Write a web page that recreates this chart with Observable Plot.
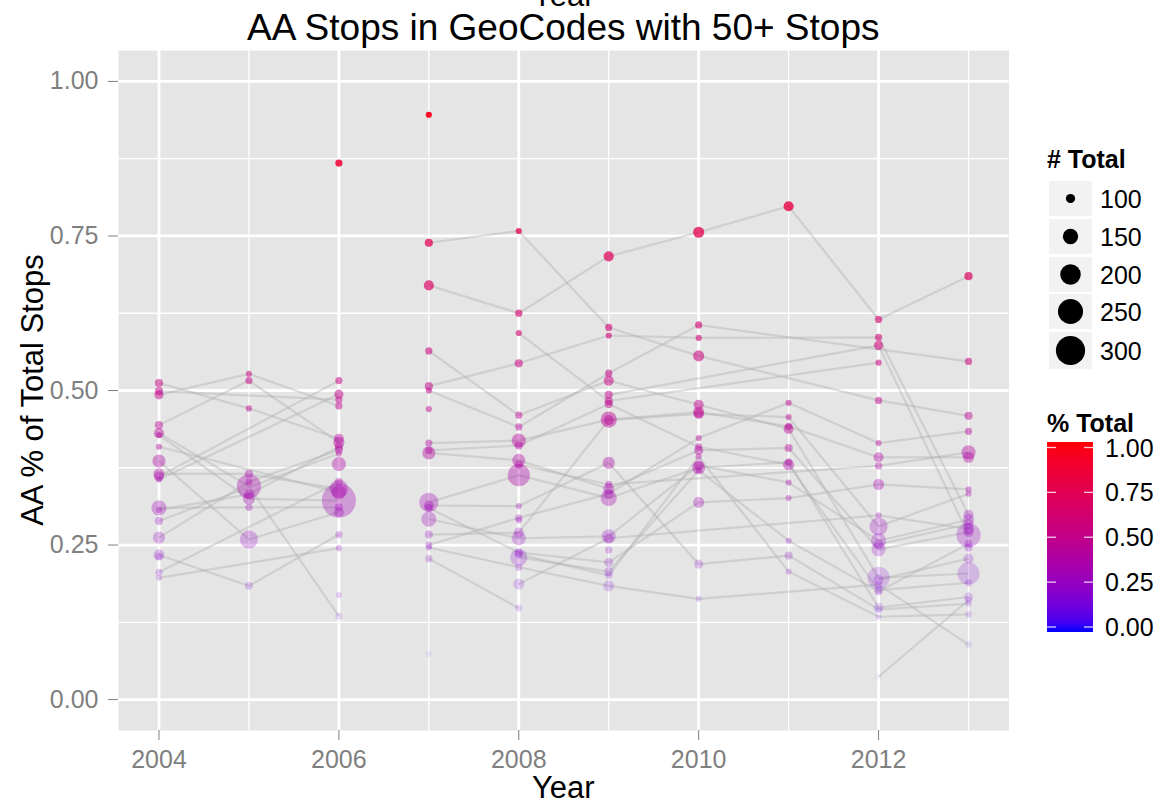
<!DOCTYPE html>
<html>
<head>
<meta charset="utf-8">
<script src="https://cdn.jsdelivr.net/npm/d3@7"></script>
<script src="https://cdn.jsdelivr.net/npm/@observablehq/plot@0.6"></script>
<style>
  body { margin: 0; background: white; }
  #wrap { position: relative; width: 1163px; height: 806px; overflow: hidden; background: white; }
</style>
</head>
<body>
<div id="wrap"></div>
<script>
// ---- data: [AA % of total, # total stops, geocode id] per year ----
const years = [2004, 2005, 2006, 2007, 2008, 2009, 2010, 2011, 2012, 2013];

const pts2004 = [
  [0.512, 93, "A1"], [0.499, 93, "A17"], [0.493, 100, "A2"], [0.444, 93, "A3"], [0.431, 107, "A4"],
  [0.428, 79, "A5"], [0.409, 79, "A18"], [0.386, 131, "A6"], [0.365, 115, "A7"], [0.361, 107, "A8"],
  [0.356, 79, "A15"], [0.310, 149, "A9"], [0.307, 79, "A10"], [0.289, 93, "A16"], [0.262, 123, "A11"],
  [0.234, 115, "A12"], [0.232, 86, "A19"], [0.206, 86, "A13"], [0.197, 79, "A14"]
];
const pts2005 = [
  [0.527, 79, "A2"], [0.516, 86, "A3"], [0.471, 79, "A1"], [0.365, 93, "A7"], [0.352, 86, "A11"],
  [0.345, 240, "A4"], [0.332, 107, "A10"], [0.325, 123, "A5"], [0.311, 86, "A9"], [0.259, 177, "A6"],
  [0.184, 93, "A12"]
];
const pts2006 = [
  [0.868, 86, "A20"], [0.516, 86, "A8"], [0.494, 100, "A15"], [0.485, 86, "A17"], [0.475, 86, "A2"],
  [0.422, 107, "A1"], [0.416, 115, "A3"], [0.409, 93, "A10"], [0.404, 93, "A11"], [0.398, 79, "A16"],
  [0.381, 140, "A21"], [0.352, 93, "A13"], [0.341, 177, "A7"], [0.335, 140, "A18"], [0.322, 367, "A5"],
  [0.311, 93, "A9"], [0.303, 107, "A6"], [0.267, 86, "A12"], [0.245, 79, "A14"], [0.169, 79, "A22"],
  [0.135, 86, "A4"]
];
const pts2007 = [
  [0.946, 79, "B30"], [0.739, 93, "B1"], [0.670, 107, "B2"], [0.564, 86, "B3"], [0.507, 93, "B4"],
  [0.500, 79, "B5"], [0.470, 79, "B31"], [0.415, 86, "B6"], [0.403, 86, "B8"], [0.399, 131, "B7"],
  [0.319, 187, "B9"], [0.314, 107, "B10"], [0.310, 93, "B14"], [0.292, 149, "B11"], [0.267, 93, "B12"],
  [0.250, 86, "B13"], [0.246, 79, "B16"], [0.228, 86, "B15"], [0.074, 79, "B32"]
];
const pts2008 = [
  [0.758, 79, "B1"], [0.625, 86, "B2"], [0.593, 79, "B23"], [0.544, 93, "B4"], [0.460, 86, "B3"],
  [0.441, 86, "B5"], [0.419, 140, "B6"], [0.411, 93, "B8"], [0.387, 131, "B7"], [0.380, 93, "B20"],
  [0.363, 218, "B9"], [0.313, 79, "B10"], [0.294, 86, "B13"], [0.290, 79, "B33"], [0.270, 107, "B12"],
  [0.261, 140, "B11"], [0.238, 93, "B14"], [0.235, 93, "B18"], [0.230, 167, "B17"], [0.214, 86, "B16"],
  [0.187, 115, "B19"], [0.148, 86, "B15"]
];
const pts2009 = [
  [0.717, 107, "B2"], [0.602, 86, "B1"], [0.589, 79, "B4"], [0.528, 86, "B5"], [0.516, 107, "B3"],
  [0.493, 93, "B21"], [0.483, 93, "B23"], [0.478, 93, "B8"], [0.453, 158, "B6"], [0.452, 107, "B12"],
  [0.383, 123, "B10"], [0.348, 86, "B20"], [0.341, 115, "B7"], [0.333, 107, "B13"], [0.326, 158, "B9"],
  [0.264, 140, "B11"], [0.261, 107, "B19"], [0.242, 86, "B34"], [0.222, 100, "B14"], [0.207, 100, "B17"],
  [0.201, 86, "B18"], [0.184, 115, "B16"]
];
const pts2010 = [
  [0.756, 115, "B2"], [0.606, 86, "B5"], [0.585, 79, "B4"], [0.556, 115, "B1"], [0.477, 107, "B3"],
  [0.465, 115, "B6"], [0.462, 107, "B12"], [0.423, 79, "B13"], [0.409, 86, "B8"], [0.403, 100, "B7"],
  [0.393, 79, "B18"], [0.379, 107, "B11"], [0.375, 131, "B9"], [0.371, 79, "B17"], [0.319, 115, "B14"],
  [0.219, 100, "B10"], [0.163, 79, "B16"]
];
const pts2011 = [
  [0.798, 107, "B2"], [0.480, 79, "B13"], [0.457, 79, "B12"], [0.442, 86, "B6"], [0.438, 107, "B3"],
  [0.407, 93, "B7"], [0.384, 86, "B9"], [0.380, 115, "B8"], [0.351, 79, "B11"], [0.326, 79, "B14"],
  [0.257, 79, "B17"], [0.233, 93, "B10"], [0.207, 79, "B18"]
];
const pts2012 = [
  [0.615, 86, "B2"], [0.586, 86, "B4"], [0.573, 100, "B21"], [0.545, 79, "B23"], [0.484, 86, "B1"],
  [0.415, 79, "B13"], [0.392, 107, "B6"], [0.378, 86, "B20"], [0.348, 115, "B14"], [0.298, 79, "B19"],
  [0.280, 177, "B12"], [0.257, 149, "B11"], [0.251, 107, "B24"], [0.243, 140, "B7"], [0.197, 218, "B3"],
  [0.194, 107, "B25"], [0.186, 86, "B16"], [0.177, 93, "B8"], [0.175, 93, "B17"], [0.149, 107, "B9"],
  [0.146, 86, "B10"], [0.134, 79, "B18"], [0.037, 86, "B22"]
];
const pts2013 = [
  [0.685, 93, "B2"], [0.547, 86, "B5"], [0.459, 93, "B1"], [0.434, 86, "B13"], [0.400, 140, "B20"],
  [0.392, 115, "B6"], [0.340, 79, "B14"], [0.333, 79, "B12"], [0.299, 107, "B4"], [0.291, 115, "B11"],
  [0.284, 107, "B24"], [0.276, 115, "B19"], [0.271, 107, "B7"], [0.266, 240, "B21"], [0.252, 93, "B17"],
  [0.246, 93, "B35"], [0.228, 107, "B25"], [0.204, 218, "B3"], [0.189, 86, "B8"], [0.166, 100, "B9"],
  [0.161, 86, "B22"], [0.155, 79, "B10"], [0.138, 86, "B18"], [0.089, 86, "B16"]
];

const xMajor = [2004, 2006, 2008, 2010, 2012];
const xMinor = [2005, 2007, 2009, 2011, 2013];
const yMajor = [0, 0.25, 0.5, 0.75, 1];
const yMinor = [0.125, 0.375, 0.625, 0.875];
const sizeBreaks = [100, 150, 200, 250, 300];
const colorBreaks = [1, 0.75, 0.5, 0.25, 0];

// ---- build table ----
const byYear = [pts2004, pts2005, pts2006, pts2007, pts2008, pts2009, pts2010, pts2011, pts2012, pts2013];
const rows = [];
byYear.forEach((arr, i) => arr.forEach(([pct, total, geo]) => rows.push({year: years[i], pct, total, geo})));
const geoCount = d3.rollup(rows, v => v.length, d => d.geo);
const lineRows = rows.filter(d => geoCount.get(d.geo) > 1)
  .sort((a, b) => d3.ascending(a.geo, b.geo) || a.year - b.year);

const font = "'Liberation Sans', Arial, Helvetica, sans-serif";

const chart = Plot.plot({
  width: 1163,
  height: 806,
  marginTop: 50,
  marginRight: 154.5,
  marginBottom: 76,
  marginLeft: 118,
  style: {fontFamily: font, background: "white", overflow: "visible"},
  x: {domain: [2003.55, 2013.45]},
  y: {domain: [-0.05, 1.05]},
  color: {type: "linear", domain: [0, 1], range: ["blue", "red"], interpolate: "lab"},
  opacity: {domain: d3.extent(rows, d => d.pct), range: [0.1, 1]},
  r: {type: "sqrt", domain: [100, 300], range: [4.6, 14.6]},
  marks: [
    Plot.frame({fill: "#E5E5E5", stroke: "none"}),
    Plot.ruleX(xMinor, {stroke: "white", strokeWidth: 1.3}),
    Plot.ruleY(yMinor, {stroke: "white", strokeWidth: 1.3}),
    Plot.ruleX(xMajor, {stroke: "white", strokeWidth: 2.8}),
    Plot.ruleY(yMajor, {stroke: "white", strokeWidth: 2.8}),
    Plot.line(lineRows, {x: "year", y: "pct", z: "geo", stroke: "#b0b0b0", strokeOpacity: 0.42, strokeWidth: 2.2, strokeLinecap: "butt"}),
    Plot.dot(rows, {x: "year", y: "pct", r: "total", fill: "pct", fillOpacity: "pct"}),
    Plot.axisX({ticks: xMajor, tickFormat: d => String(d), tickSize: 10, tickPadding: 10, fontSize: 25, color: "#7F7F7F", label: null}),
    Plot.axisY({ticks: yMajor, tickFormat: d => d.toFixed(2), tickSize: 10, tickPadding: 10, fontSize: 25, color: "#7F7F7F", label: null})
  ]
});

document.getElementById("wrap").appendChild(chart);

const svg = d3.select(chart);
const cx = 118 + (1163 - 154.5 - 118) / 2;

// titles
svg.append("text").attr("x", cx).attr("y", 6).attr("text-anchor", "middle")
  .attr("font-family", font).attr("font-size", 31).attr("fill", "black").text("Year");
svg.append("text").attr("x", cx).attr("y", 40).attr("text-anchor", "middle")
  .attr("font-family", font).attr("font-size", 37).attr("fill", "black").text("AA Stops in GeoCodes with 50+ Stops");
svg.append("text").attr("x", cx).attr("y", 798).attr("text-anchor", "middle")
  .attr("font-family", font).attr("font-size", 31).attr("fill", "black").text("Year");
svg.append("text").attr("transform", "translate(43,390) rotate(-90)").attr("text-anchor", "middle")
  .attr("font-family", font).attr("font-size", 31).attr("fill", "black").text("AA % of Total Stops");

// size legend
const rScale = Plot.scale({r: chart.scale("r")});
const lg = svg.append("g").attr("font-family", font).attr("text-anchor", "start").attr("fill", "black");
lg.append("text").attr("x", 1047).attr("y", 168).attr("font-size", 25).attr("font-weight", "bold").text("# Total");
const boxTops = [181, 219, 257, 294, 332];
const boxH = [35, 35, 35, 35, 37];
sizeBreaks.forEach((v, i) => {
  const cy = boxTops[i] + boxH[i] / 2;
  lg.append("rect").attr("x", 1049).attr("y", boxTops[i]).attr("width", 43).attr("height", boxH[i]).attr("fill", "#F2F2F2");
  lg.append("circle").attr("cx", 1070.5).attr("cy", cy).attr("r", rScale.apply(v)).attr("fill", "black");
  lg.append("text").attr("x", 1100).attr("y", cy).attr("dy", "0.36em").attr("font-size", 25).text(String(v));
});

// colour legend
const cScale = Plot.scale({color: chart.scale("color")});
lg.append("text").attr("x", 1047).attr("y", 432).attr("font-size", 25).attr("font-weight", "bold").text("% Total");
const defs = svg.append("defs");
const grad = defs.append("linearGradient").attr("id", "cbar").attr("x1", 0).attr("y1", 1).attr("x2", 0).attr("y2", 0);
d3.range(0, 1.0001, 0.05).forEach(t => grad.append("stop").attr("offset", t).attr("stop-color", cScale.apply(t)));
const barTop = 442, barBot = 632;
lg.append("rect").attr("x", 1047).attr("y", barTop).attr("width", 46).attr("height", barBot - barTop).attr("fill", "url(#cbar)");
const tickY = v => 447.5 + (1 - v) * 179.5;
colorBreaks.forEach(v => {
  const y = tickY(v);
  lg.append("line").attr("x1", 1047).attr("x2", 1056).attr("y1", y).attr("y2", y).attr("stroke", "white").attr("stroke-opacity", 0.8).attr("stroke-width", 1.3);
  lg.append("line").attr("x1", 1084).attr("x2", 1093).attr("y1", y).attr("y2", y).attr("stroke", "white").attr("stroke-opacity", 0.8).attr("stroke-width", 1.3);
  lg.append("text").attr("x", 1105).attr("y", y).attr("dy", "0.36em").attr("font-size", 25).text(v.toFixed(2));
});
</script>
</body>
</html>
